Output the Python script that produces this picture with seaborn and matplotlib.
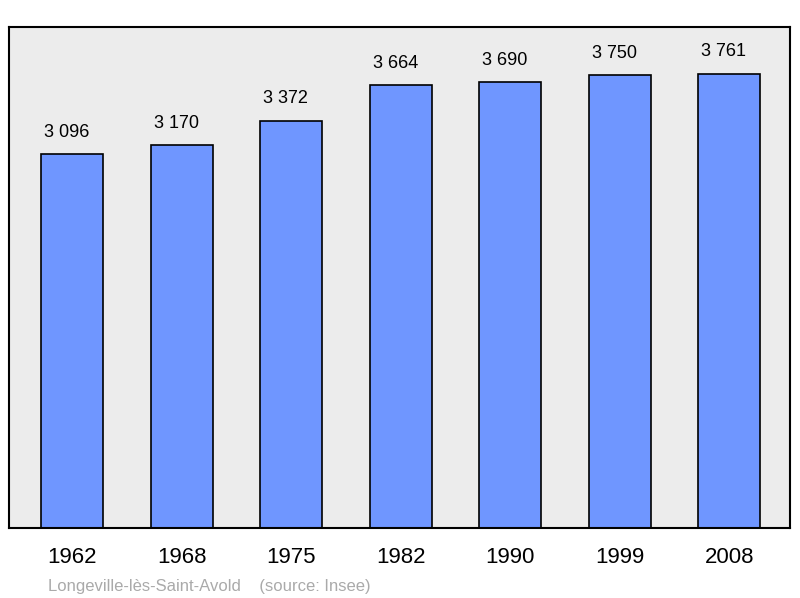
import matplotlib
matplotlib.use('Agg')
import matplotlib.pyplot as plt
import seaborn as sns
import pandas as pd

years = ['1962', '1968', '1975', '1982', '1990', '1999', '2008']
population = [3096, 3170, 3372, 3664, 3690, 3750, 3761]

df = pd.DataFrame({'year': years, 'pop': population})

sns.set_style('white')
plt.rcParams['font.family'] = ['Liberation Sans', 'DejaVu Sans']

fig = plt.figure(figsize=(8, 5.98), dpi=100)
ax = fig.add_axes([0.011, 0.117, 0.976, 0.838])
ax.set_facecolor('#ececec')

sns.barplot(data=df, x='year', y='pop', color='#6f96ff', saturation=1,
            width=0.566, edgecolor='black', linewidth=1.2, ax=ax)

for i, v in enumerate(population):
    ax.text(i - 0.05, v + 110, f'{v:,}'.replace(',', ' '), ha='center', va='bottom',
            fontsize=13, color='black')

ax.set_ylim(0, 4147)
ax.set_xlim(-0.58, 6.55)
ax.set_yticks([])
ax.set_xlabel('')
ax.set_ylabel('')
ax.tick_params(axis='x', labelsize=16, length=0, pad=14, labelcolor='black')
for s in ax.spines.values():
    s.set_color('black')
    s.set_linewidth(1.5)

fig.text(0.06, 0.012, 'Longeville-lès-Saint-Avold    (source: Insee)', color='#aaaaaa', fontsize=12)

fig.savefig('out.png', dpi=100)
